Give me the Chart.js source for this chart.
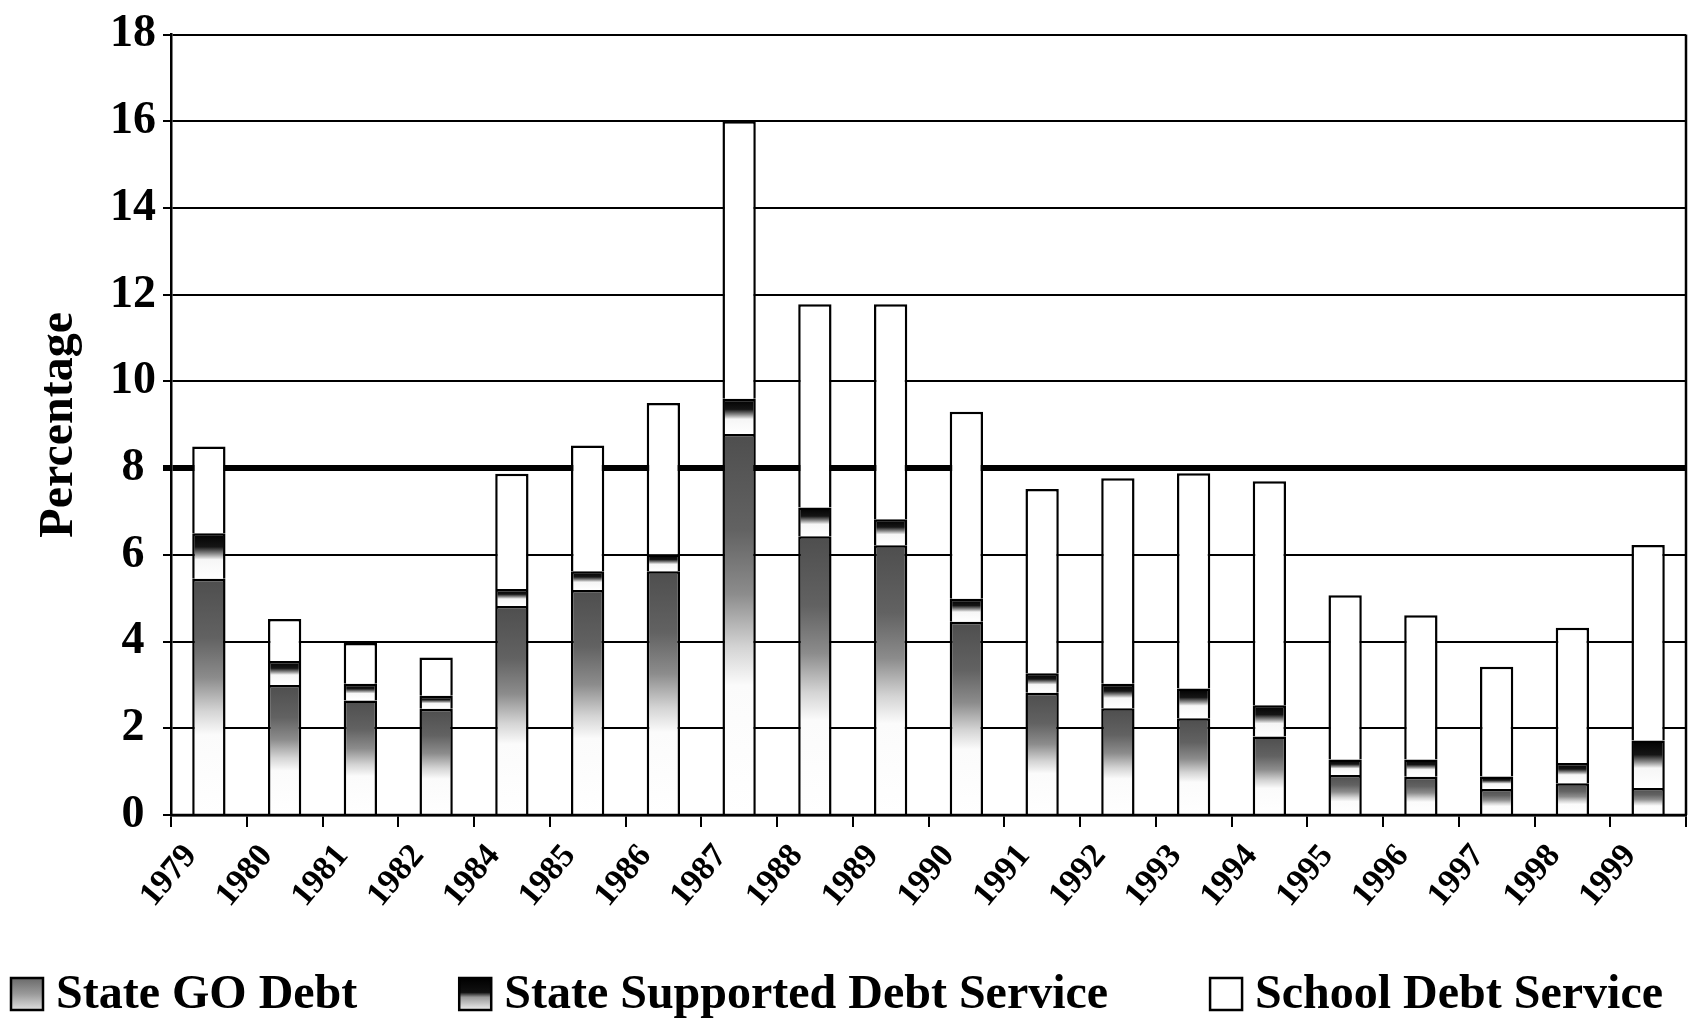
<!DOCTYPE html>
<html>
<head>
<meta charset="utf-8">
<title>Debt Service as a Percentage</title>
<script src="https://cdn.jsdelivr.net/npm/chart.js@4.4.1/dist/chart.umd.min.js"></script>
<style>
  html, body { margin: 0; padding: 0; background: #ffffff; }
  canvas { display: block; }
</style>
</head>
<body>
<canvas id="debtChart" width="1697" height="1021"></canvas>
<script>
// Fiscal years shown on the category axis (1983 is not reported)
const years = ['1979', '1980', '1981', '1982', '1984', '1985', '1986', '1987', '1988', '1989',
               '1990', '1991', '1992', '1993', '1994', '1995', '1996', '1997', '1998', '1999'];

// Stacked components, in percent
const stateGoDebt = [5.45, 3.00, 2.64, 2.45, 4.82, 5.19, 5.62, 8.79, 6.43, 6.22,
                     4.46, 2.82, 2.46, 2.23, 1.81, 0.92, 0.88, 0.60, 0.73, 0.62];
const stateSupportedDebtService = [1.05, 0.55, 0.39, 0.30, 0.39, 0.43, 0.39, 0.81, 0.66, 0.60,
                                   0.53, 0.45, 0.57, 0.69, 0.72, 0.36, 0.40, 0.29, 0.47, 1.10];
const schoolDebtService = [2.00, 0.97, 0.94, 0.88, 2.66, 2.90, 3.49, 6.40, 4.69, 4.96,
                           4.31, 4.25, 4.74, 4.96, 5.17, 3.79, 3.33, 2.53, 3.12, 4.51];

const seriesNames = ['State GO Debt', 'State Supported Debt Service', 'School Debt Service'];

// Value axis
const yMin = 0;
const yMax = 18;
const yStep = 2;
const referenceLevel = 8;

const SERIF = '"Liberation Serif", "Times New Roman", "DejaVu Serif", serif';

// Shading ramps for each stacked segment (top of segment -> bottom)
const goStops = [[0, '#4e4e4e'], [0.25, '#626262'], [0.42, '#8c8c8c'], [0.56, '#d4d4d4'], [0.66, '#fbfbfb'], [1, '#ffffff']];
const supportedStops = [[0, '#000000'], [0.3, '#151515'], [0.45, '#8a8a8a'], [0.58, '#f6f6f6'], [1, '#ffffff']];

function segmentFill(stops, fallback) {
  return function (ctx) {
    const chart = ctx.chart;
    const y = chart.scales && chart.scales.y;
    if (ctx.type !== 'data' || !chart.chartArea || !y) return fallback;
    const sets = chart.data.datasets;
    let base = 0;
    for (let d = 0; d < ctx.datasetIndex; d++) base += sets[d].data[ctx.dataIndex];
    const top = base + sets[ctx.datasetIndex].data[ctx.dataIndex];
    const yTop = y.getPixelForValue(top);
    const yBase = y.getPixelForValue(base);
    if (!(yBase > yTop)) return fallback;
    const g = chart.ctx.createLinearGradient(0, yTop, 0, yBase);
    stops.forEach(([o, c]) => g.addColorStop(o, c));
    return g;
  };
}

// Frame lines drawn above the bars: baseline and right-hand border
const plotFrame = {
  id: 'plotFrame',
  afterDatasetsDraw(chart, args, opts) {
    const { ctx, chartArea: a } = chart;
    ctx.save();
    ctx.strokeStyle = opts.color;
    ctx.lineWidth = opts.width;
    ctx.beginPath();
    ctx.moveTo(a.left, a.bottom);
    ctx.lineTo(a.right, a.bottom);
    ctx.moveTo(a.right, a.top);
    ctx.lineTo(a.right, a.bottom);
    ctx.stroke();
    ctx.restore();
  }
};

// Swatch painter for the legend row
function paintSwatch(ctx, index, x, y, s) {
  ctx.save();
  if (index === 2) {
    ctx.fillStyle = '#ffffff';
  } else {
    const g = ctx.createLinearGradient(0, y, 0, y + s);
    const stops = index === 0
      ? [[0, '#6a6a6a'], [0.5, '#9a9a9a'], [1, '#e0e0e0']]
      : [[0, '#000000'], [0.45, '#111111'], [0.6, '#9a9a9a'], [1, '#f0f0f0']];
    stops.forEach(([o, c]) => g.addColorStop(o, c));
    ctx.fillStyle = g;
  }
  ctx.fillRect(x, y, s, s);
  ctx.strokeStyle = '#000000';
  ctx.lineWidth = 2.5;
  ctx.strokeRect(x, y, s, s);
  ctx.restore();
}

// Legend row spread across the bottom of the canvas
const legendRow = {
  id: 'legendRow',
  afterDraw(chart, args, opts) {
    const ctx = chart.ctx;
    ctx.save();
    ctx.font = `bold ${opts.fontSize}px ${SERIF}`;
    const labels = chart.data.datasets.map(ds => ds.label);
    const widths = labels.map(t => opts.box + opts.gap + ctx.measureText(t).width);
    const used = widths.reduce((p, w) => p + w, 0);
    const spacing = (opts.right - opts.left - used) / (labels.length - 1);
    let x = opts.left;
    labels.forEach((t, i) => {
      paintSwatch(ctx, i, x, opts.boxTop, opts.box);
      ctx.fillStyle = '#000000';
      ctx.textAlign = 'left';
      ctx.textBaseline = 'alphabetic';
      ctx.fillText(t, x + opts.box + opts.gap, opts.baseline);
      x += widths[i] + spacing;
    });
    ctx.restore();
  }
};

const barShape = {
  borderColor: '#000000',
  borderWidth: 2.5,
  barPercentage: 0.44,
  categoryPercentage: 1.0,
  stack: 'debt'
};

new Chart(document.getElementById('debtChart'), {
  type: 'bar',
  data: {
    labels: years,
    datasets: [
      Object.assign({ label: seriesNames[0], data: stateGoDebt,
        backgroundColor: segmentFill(goStops, '#777777') }, barShape),
      Object.assign({ label: seriesNames[1], data: stateSupportedDebtService,
        backgroundColor: segmentFill(supportedStops, '#222222') }, barShape),
      Object.assign({ label: seriesNames[2], data: schoolDebtService,
        backgroundColor: '#ffffff' }, barShape)
    ]
  },
  options: {
    responsive: false,
    animation: false,
    devicePixelRatio: 1,
    layout: { padding: { top: 30, right: 11, bottom: 0, left: 0 } },
    scales: {
      x: {
        stacked: true,
        offset: true,
        grid: {
          offset: true,
          drawOnChartArea: false,
          drawTicks: true,
          tickLength: 12,
          color: '#000000',
          lineWidth: 2
        },
        border: { display: true, color: '#000000', width: 2.5 },
        ticks: {
          autoSkip: false,
          maxRotation: 50,
          minRotation: 50,
          padding: 10,
          labelOffset: -18,
          color: '#000000',
          font: { family: SERIF, size: 34, weight: 'bold' }
        },
        afterFit(scale) { scale.height = 206; }
      },
      y: {
        stacked: true,
        min: yMin,
        max: yMax,
        ticks: {
          stepSize: yStep,
          crossAlign: 'center',
          padding: 7,
          color: '#000000',
          font: { family: SERIF, size: 46, weight: 'bold' }
        },
        grid: {
          color: '#000000',
          lineWidth: ctx => (ctx.tick && ctx.tick.value === referenceLevel ? 6 : 2),
          tickLength: 8
        },
        border: { display: true, color: '#000000', width: 2.5 },
        title: {
          display: true,
          text: 'Percentage',
          color: '#000000',
          font: { family: SERIF, size: 48, weight: 'bold' },
          padding: { top: 31, bottom: 0 }
        },
        afterFit(scale) { scale.width = 171; }
      }
    },
    plugins: {
      legend: { display: false },
      tooltip: { enabled: false },
      plotFrame: { color: '#000000', width: 2.5 },
      legendRow: { fontSize: 48, box: 32, gap: 13, left: 11, right: 1663, boxTop: 978, baseline: 1008 }
    }
  },
  plugins: [plotFrame, legendRow]
});
</script>
</body>
</html>
